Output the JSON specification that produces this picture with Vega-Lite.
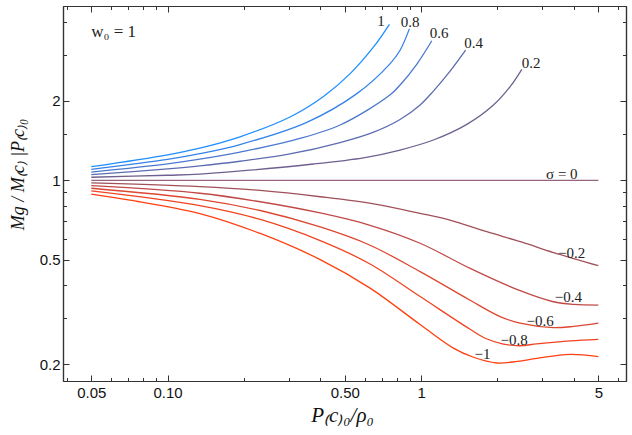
{
  "$schema": "https://vega.github.io/schema/vega-lite/v6.json",
  "width": 563,
  "height": 375,
  "autosize": "none",
  "padding": {"left": 63, "top": 6, "right": 6, "bottom": 54},
  "background": "white",
  "config": {
    "view": {"stroke": null},
    "axis": {
      "grid": false,
      "domainColor": "#333333",
      "domainWidth": 1.2,
      "tickColor": "#333333",
      "tickWidth": 1,
      "labelFont": "Liberation Sans",
      "labelFontSize": 15,
      "labelColor": "#111111",
      "titleFont": "Liberation Serif",
      "titleFontStyle": "italic",
      "titleFontWeight": "normal",
      "titleColor": "#111111"
    }
  },
  "datasets": {
    "curves": [
      {"s": 1, "x": 0.05, "y": 1.126}, {"s": 1, "x": 0.1, "y": 1.25}, {"s": 1, "x": 0.134, "y": 1.325},
      {"s": 1, "x": 0.193, "y": 1.463}, {"s": 1, "x": 0.304, "y": 1.739}, {"s": 1, "x": 0.412, "y": 2.08},
      {"s": 1, "x": 0.525, "y": 2.54}, {"s": 1, "x": 0.648, "y": 3.2}, {"s": 1, "x": 0.75, "y": 3.91},

      {"s": 0.8, "x": 0.05, "y": 1.1}, {"s": 0.8, "x": 0.1, "y": 1.2}, {"s": 0.8, "x": 0.134, "y": 1.262},
      {"s": 0.8, "x": 0.193, "y": 1.367}, {"s": 0.8, "x": 0.354, "y": 1.66}, {"s": 0.8, "x": 0.558, "y": 2.133},
      {"s": 0.8, "x": 0.755, "y": 2.773}, {"s": 0.8, "x": 0.826, "y": 3.117}, {"s": 0.8, "x": 0.899, "y": 3.756},

      {"s": 0.6, "x": 0.05, "y": 1.075}, {"s": 0.6, "x": 0.1, "y": 1.155}, {"s": 0.6, "x": 0.134, "y": 1.203},
      {"s": 0.6, "x": 0.193, "y": 1.28}, {"s": 0.6, "x": 0.3, "y": 1.404}, {"s": 0.6, "x": 0.479, "y": 1.621},
      {"s": 0.6, "x": 0.755, "y": 2.111}, {"s": 0.6, "x": 0.826, "y": 2.299}, {"s": 0.6, "x": 0.961, "y": 2.756},
      {"s": 0.6, "x": 1.102, "y": 3.385},

      {"s": 0.4, "x": 0.05, "y": 1.05}, {"s": 0.4, "x": 0.1, "y": 1.105}, {"s": 0.4, "x": 0.134, "y": 1.134},
      {"s": 0.4, "x": 0.193, "y": 1.181}, {"s": 0.4, "x": 0.3, "y": 1.256}, {"s": 0.4, "x": 0.479, "y": 1.391},
      {"s": 0.4, "x": 0.65, "y": 1.524}, {"s": 0.4, "x": 0.826, "y": 1.702}, {"s": 0.4, "x": 0.991, "y": 1.933},
      {"s": 0.4, "x": 1.118, "y": 2.181}, {"s": 0.4, "x": 1.301, "y": 2.597}, {"s": 0.4, "x": 1.498, "y": 3.12},

      {"s": 0.2, "x": 0.05, "y": 1.027}, {"s": 0.2, "x": 0.1, "y": 1.045}, {"s": 0.2, "x": 0.134, "y": 1.056},
      {"s": 0.2, "x": 0.376, "y": 1.153}, {"s": 0.2, "x": 0.6, "y": 1.22}, {"s": 0.2, "x": 0.826, "y": 1.303},
      {"s": 0.2, "x": 1.118, "y": 1.422}, {"s": 0.2, "x": 1.515, "y": 1.63}, {"s": 0.2, "x": 1.929, "y": 1.93},
      {"s": 0.2, "x": 2.244, "y": 2.266}, {"s": 0.2, "x": 2.496, "y": 2.638},

      {"s": 0, "x": 0.05, "y": 1}, {"s": 0, "x": 5, "y": 1},

      {"s": -0.2, "x": 0.05, "y": 0.977}, {"s": -0.2, "x": 0.134, "y": 0.946}, {"s": -0.2, "x": 0.232, "y": 0.915},
      {"s": -0.2, "x": 0.4, "y": 0.866}, {"s": -0.2, "x": 0.65, "y": 0.814}, {"s": -0.2, "x": 0.991, "y": 0.749},
      {"s": -0.2, "x": 1.3, "y": 0.706}, {"s": -0.2, "x": 1.816, "y": 0.638}, {"s": -0.2, "x": 2.5, "y": 0.582},
      {"s": -0.2, "x": 3.325, "y": 0.532}, {"s": -0.2, "x": 5, "y": 0.474},

      {"s": -0.4, "x": 0.05, "y": 0.954}, {"s": -0.4, "x": 0.134, "y": 0.893}, {"s": -0.4, "x": 0.232, "y": 0.829},
      {"s": -0.4, "x": 0.4, "y": 0.7516}, {"s": -0.4, "x": 0.629, "y": 0.675}, {"s": -0.4, "x": 0.991, "y": 0.577},
      {"s": -0.4, "x": 1.561, "y": 0.463}, {"s": -0.4, "x": 2.458, "y": 0.381}, {"s": -0.4, "x": 3.325, "y": 0.346},
      {"s": -0.4, "x": 4, "y": 0.338}, {"s": -0.4, "x": 5, "y": 0.336},

      {"s": -0.6, "x": 0.05, "y": 0.933}, {"s": -0.6, "x": 0.134, "y": 0.847}, {"s": -0.6, "x": 0.232, "y": 0.768},
      {"s": -0.6, "x": 0.4, "y": 0.665}, {"s": -0.6, "x": 0.629, "y": 0.567}, {"s": -0.6, "x": 0.991, "y": 0.45},
      {"s": -0.6, "x": 1.561, "y": 0.3505}, {"s": -0.6, "x": 2.05, "y": 0.304}, {"s": -0.6, "x": 2.458, "y": 0.287},
      {"s": -0.6, "x": 3.325, "y": 0.276}, {"s": -0.6, "x": 4, "y": 0.279}, {"s": -0.6, "x": 5, "y": 0.287},

      {"s": -0.8, "x": 0.05, "y": 0.911}, {"s": -0.8, "x": 0.134, "y": 0.8014}, {"s": -0.8, "x": 0.232, "y": 0.7101},
      {"s": -0.8, "x": 0.4, "y": 0.5902}, {"s": -0.8, "x": 0.629, "y": 0.4813}, {"s": -0.8, "x": 0.991, "y": 0.362},
      {"s": -0.8, "x": 1.561, "y": 0.272}, {"s": -0.8, "x": 1.8, "y": 0.251}, {"s": -0.8, "x": 2.112, "y": 0.239},
      {"s": -0.8, "x": 2.45, "y": 0.2356}, {"s": -0.8, "x": 2.86, "y": 0.2395}, {"s": -0.8, "x": 3.871, "y": 0.2459},
      {"s": -0.8, "x": 5, "y": 0.2492},

      {"s": -1, "x": 0.05, "y": 0.887}, {"s": -1, "x": 0.071, "y": 0.8416}, {"s": -1, "x": 0.134, "y": 0.748},
      {"s": -1, "x": 0.232, "y": 0.6284}, {"s": -1, "x": 0.4, "y": 0.5}, {"s": -1, "x": 0.629, "y": 0.3898},
      {"s": -1, "x": 0.991, "y": 0.2836}, {"s": -1, "x": 1.341, "y": 0.2308}, {"s": -1, "x": 1.6, "y": 0.2135},
      {"s": -1, "x": 1.989, "y": 0.2026}, {"s": -1, "x": 2.4, "y": 0.2055}, {"s": -1, "x": 2.86, "y": 0.211},
      {"s": -1, "x": 3.871, "y": 0.2186}, {"s": -1, "x": 5, "y": 0.2141}
    ],
    "labels": [
      {"t": "1", "x": 0.695, "y": 4.03},
      {"t": "0.8", "x": 0.905, "y": 3.98},
      {"t": "0.6", "x": 1.178, "y": 3.61},
      {"t": "0.4", "x": 1.611, "y": 3.31},
      {"t": "0.2", "x": 2.716, "y": 2.78},
      {"t": "σ = 0", "x": 3.59, "y": 1.057},
      {"t": "−0.2", "x": 3.924, "y": 0.531},
      {"t": "−0.4", "x": 3.811, "y": 0.362},
      {"t": "−0.6", "x": 2.947, "y": 0.293},
      {"t": "−0.8", "x": 2.327, "y": 0.248},
      {"t": "−1", "x": 1.748, "y": 0.219}
    ],
    "note": [
      {"t": "w₀ = 1", "x": 0.05, "y": 3.65}
    ]
  },
  "layer": [
    {
      "data": {"name": "curves"},
      "transform": [{"filter": "datum.s >= 0"}],
      "mark": {"type": "line", "interpolate": "catmull-rom", "strokeWidth": 1.3},
      "encoding": {
        "x": {
          "field": "x", "type": "quantitative",
          "scale": {"type": "log", "domain": [0.03867, 6.43], "nice": false},
          "axis": {
            "orient": "bottom", "values": [0.05, 0.1, 0.5, 1, 5], "tickSize": -6, "labelPadding": 10,
            "labelExpr": "datum.value < 1 ? format(datum.value, '.2f') : format(datum.value, 'd')",
            "labelFlush": false,
            "title": "P₍c₎₀/ρ₀", "titleFontSize": 21, "titleX": 279, "titleY": 34, "titleBaseline": "middle", "titleAlign": "center"
          }
        },
        "y": {
          "field": "y", "type": "quantitative",
          "scale": {"type": "log", "domain": [0.1731, 4.587], "nice": false},
          "axis": {
            "orient": "left", "values": [0.2, 0.5, 1, 2], "tickSize": -6, "labelPadding": 9,
            "labelExpr": "format(datum.value, '~g')", "labelFlush": false,
            "title": "Mg / M₍c₎ |P₍c₎₀", "titleFontSize": 18, "titleAngle": -90,
            "titleX": -45, "titleY": 168, "titleBaseline": "middle", "titleAlign": "center"
          }
        },
        "color": {
          "field": "s", "type": "nominal",
          "scale": {
            "domain": [1, 0.8, 0.6, 0.4, 0.2, 0, -0.2, -0.4, -0.6, -0.8, -1],
            "range": ["#1f8fff", "#3583e8", "#4b78cf", "#5d6cb0", "#6e6090", "#95647f", "#a0505a", "#c04a48", "#dd4630", "#f04320", "#ff4010"]
          },
          "legend": null
        }
      }
    },
    {
      "data": {"name": "curves"},
      "transform": [{"filter": "datum.s < 0"}],
      "mark": {"type": "line", "interpolate": "catmull-rom", "strokeWidth": 1.3},
      "encoding": {
        "x": {
          "field": "x", "type": "quantitative",
          "scale": {"type": "log", "domain": [0.03867, 6.43], "nice": false},
          "axis": {
            "orient": "bottom", "values": [0.04, 0.06, 0.07, 0.08, 0.09, 0.2, 0.3, 0.4, 0.6, 0.7, 0.8, 0.9, 2, 3, 4, 6],
            "tickSize": -3.5, "labels": false, "title": null
          }
        },
        "y": {
          "field": "y", "type": "quantitative",
          "scale": {"type": "log", "domain": [0.1731, 4.587], "nice": false},
          "axis": {
            "orient": "left", "values": [0.3, 0.4, 0.6, 0.7, 0.8, 0.9, 1.5, 3, 4],
            "tickSize": -3.5, "labels": false, "title": null
          }
        },
        "color": {"field": "s", "type": "nominal", "legend": null}
      }
    },
    {
      "data": {"name": "labels"},
      "mark": {"type": "text", "font": "Liberation Serif", "fontSize": 15, "color": "#222222", "align": "center", "baseline": "middle"},
      "encoding": {
        "x": {
          "field": "x", "type": "quantitative",
          "scale": {"type": "log", "domain": [0.03867, 6.43], "nice": false},
          "axis": {
            "orient": "top", "values": [0.05, 0.1, 0.5, 1, 5], "tickSize": -6, "labels": false, "title": null
          }
        },
        "y": {
          "field": "y", "type": "quantitative",
          "scale": {"type": "log", "domain": [0.1731, 4.587], "nice": false},
          "axis": {
            "orient": "right", "values": [0.2, 0.5, 1, 2], "tickSize": -6, "labels": false, "title": null
          }
        },
        "text": {"field": "t"}
      }
    },
    {
      "data": {"name": "note"},
      "mark": {"type": "text", "font": "Liberation Serif", "fontSize": 17, "color": "#222222", "align": "left", "baseline": "middle"},
      "encoding": {
        "x": {
          "field": "x", "type": "quantitative",
          "scale": {"type": "log", "domain": [0.03867, 6.43], "nice": false},
          "axis": {
            "orient": "top", "values": [0.04, 0.06, 0.07, 0.08, 0.09, 0.2, 0.3, 0.4, 0.6, 0.7, 0.8, 0.9, 2, 3, 4, 6],
            "tickSize": -3.5, "labels": false, "title": null
          }
        },
        "y": {
          "field": "y", "type": "quantitative",
          "scale": {"type": "log", "domain": [0.1731, 4.587], "nice": false},
          "axis": {
            "orient": "right", "values": [0.3, 0.4, 0.6, 0.7, 0.8, 0.9, 1.5, 3, 4],
            "tickSize": -3.5, "labels": false, "title": null
          }
        },
        "text": {"field": "t"}
      }
    }
  ],
  "resolve": {"axis": {"x": "independent", "y": "independent"}}
}
